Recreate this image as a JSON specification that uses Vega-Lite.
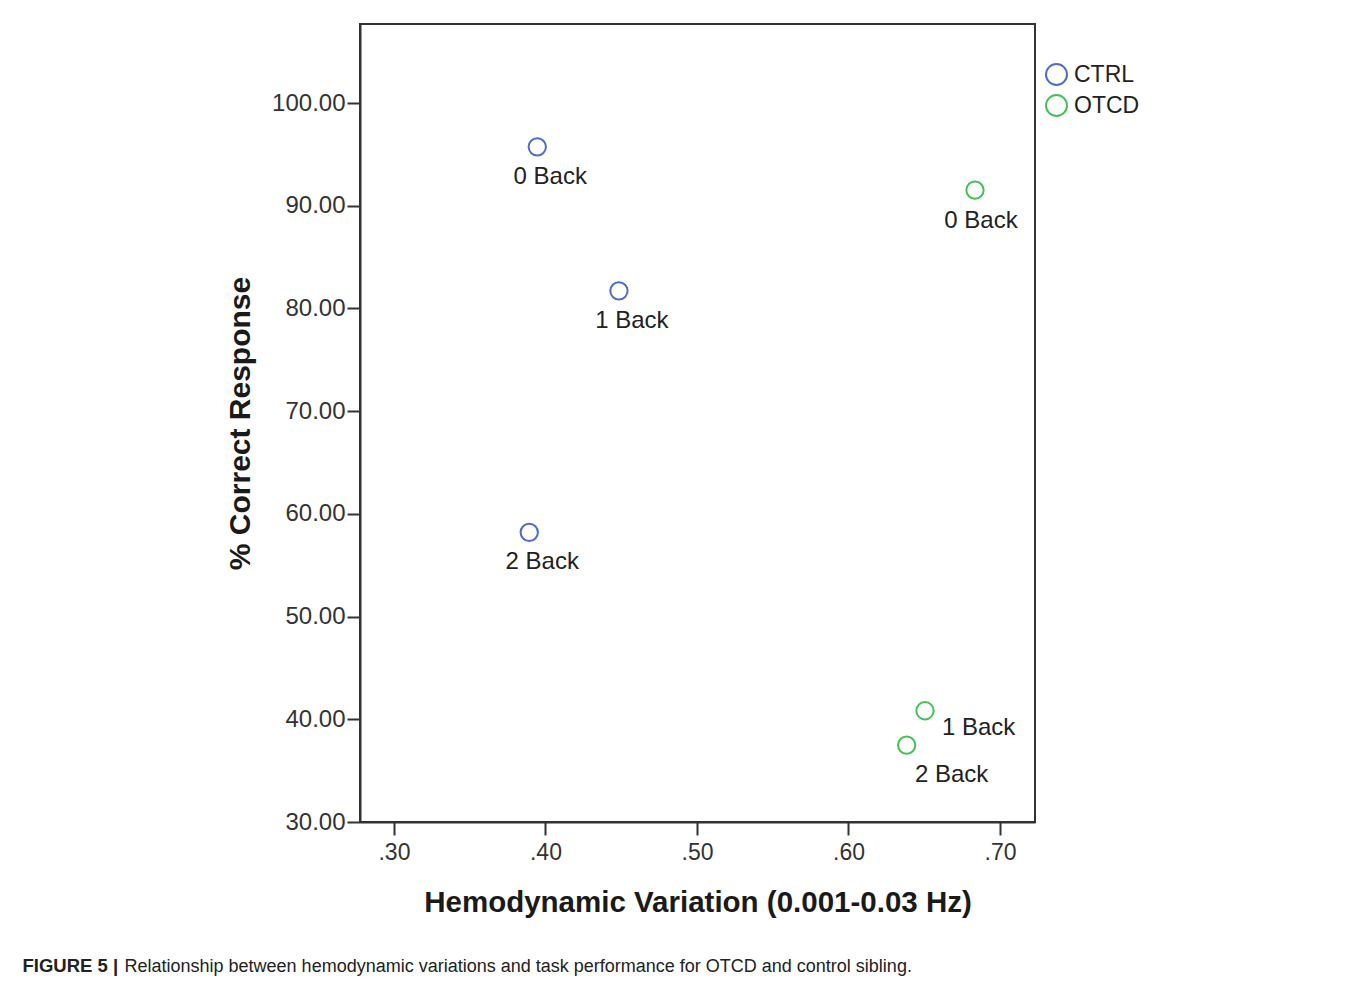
{
  "$schema": "https://vega.github.io/schema/vega-lite/v6.json",
  "width": 675,
  "height": 798,
  "autosize": {"type": "none"},
  "padding": {"left": 360, "top": 24, "right": 322, "bottom": 162},
  "background": "white",
  "config": {
    "view": {"stroke": "#333333", "strokeWidth": 2},
    "font": "Liberation Sans",
    "axis": {"grid": false}
  },
  "data": {
    "values": [
      {"group": "CTRL", "task": "0 Back", "variation": 0.3946, "correct": 95.74},
      {"group": "CTRL", "task": "1 Back", "variation": 0.4485, "correct": 81.72},
      {"group": "CTRL", "task": "2 Back", "variation": 0.3893, "correct": 58.2},
      {"group": "OTCD", "task": "0 Back", "variation": 0.6835, "correct": 91.53},
      {"group": "OTCD", "task": "1 Back", "variation": 0.6505, "correct": 40.83},
      {"group": "OTCD", "task": "2 Back", "variation": 0.6384, "correct": 37.49}
    ]
  },
  "layer": [
    {
      "mark": {"type": "point", "shape": "circle", "filled": false, "size": 300, "strokeWidth": 2, "opacity": 1},
      "encoding": {
        "x": {
          "field": "variation", "type": "quantitative",
          "scale": {"domain": [0.2776, 0.7231], "nice": false, "zero": false},
          "axis": {
            "title": "Hemodynamic Variation (0.001-0.03 Hz)",
            "values": [0.3, 0.4, 0.5, 0.6, 0.7],
            "labelExpr": "substring(format(datum.value, '.2f'), 1)",
            "labelFont": "Liberation Sans", "labelFontSize": 23, "labelColor": "#333333", "labelPadding": 6,
            "tickSize": 13, "tickColor": "#333333", "tickWidth": 2,
            "domainColor": "#333333", "domainWidth": 2,
            "titleFont": "Liberation Sans", "titleFontSize": 29.5, "titleFontWeight": "bold", "titleColor": "#1a1a1a",
            "titleX": 337.5, "titleY": 89, "titleAlign": "center", "titleBaseline": "alphabetic", "titleLimit": 2000
          }
        },
        "y": {
          "field": "correct", "type": "quantitative",
          "scale": {"domain": [30, 107.7], "nice": false, "zero": false},
          "axis": {
            "title": "% Correct Response",
            "values": [30, 40, 50, 60, 70, 80, 90, 100],
            "format": ".2f",
            "labelFont": "Liberation Sans", "labelFontSize": 24, "labelColor": "#333333", "labelPadding": 2,
            "tickSize": 13, "tickColor": "#333333", "tickWidth": 2,
            "domainColor": "#333333", "domainWidth": 2,
            "titleFont": "Liberation Sans", "titleFontSize": 30, "titleFontWeight": "bold", "titleColor": "#1a1a1a",
            "titleX": -120, "titleY": 399, "titleAngle": 270, "titleAlign": "center", "titleBaseline": "middle", "titleLimit": 2000
          }
        },
        "color": {
          "field": "group", "type": "nominal",
          "scale": {"domain": ["CTRL", "OTCD"], "range": ["#4e6ad0", "#42c254"]},
          "legend": {
            "title": null, "orient": "none", "legendX": 685, "legendY": 39,
            "symbolType": "circle", "symbolSize": 440, "symbolStrokeWidth": 2,
            "labelFont": "Liberation Sans", "labelFontSize": 23, "labelColor": "#222222", "labelOffset": 6,
            "rowPadding": 2
          }
        }
      }
    },
    {
      "transform": [{"filter": "datum.group == 'CTRL'"}],
      "mark": {"type": "text", "font": "Liberation Sans", "fontSize": 24, "color": "#222222", "align": "center", "baseline": "middle", "dx": 13, "dy": 30},
      "encoding": {
        "x": {"field": "variation", "type": "quantitative", "axis": null},
        "y": {"field": "correct", "type": "quantitative", "axis": null},
        "text": {"field": "task"}
      }
    },
    {
      "transform": [{"filter": "datum.group == 'OTCD' && datum.task == '0 Back'"}],
      "mark": {"type": "text", "font": "Liberation Sans", "fontSize": 24, "color": "#222222", "align": "center", "baseline": "middle", "dx": 6, "dy": 31},
      "encoding": {
        "x": {"field": "variation", "type": "quantitative", "axis": null},
        "y": {"field": "correct", "type": "quantitative", "axis": null},
        "text": {"field": "task"}
      }
    },
    {
      "transform": [{"filter": "datum.group == 'OTCD' && datum.task == '1 Back'"}],
      "mark": {"type": "text", "font": "Liberation Sans", "fontSize": 24, "color": "#222222", "align": "left", "baseline": "middle", "dx": 17, "dy": 17},
      "encoding": {
        "x": {
          "field": "variation", "type": "quantitative",
          "axis": {
            "orient": "bottom", "title": "Relationship between hemodynamic variations and task performance for OTCD and control sibling.",
            "labels": false, "ticks": false, "domain": false, "grid": false,
            "titleFont": "Liberation Sans", "titleFontSize": 18, "titleFontWeight": "normal", "titleColor": "#222222",
            "titleX": -236, "titleY": 149.5, "titleAlign": "left", "titleBaseline": "alphabetic", "titleAngle": 0, "titleLimit": 2000
          }
        },
        "y": {"field": "correct", "type": "quantitative", "axis": null},
        "text": {"field": "task"}
      }
    },
    {
      "transform": [{"filter": "datum.group == 'OTCD' && datum.task == '2 Back'"}],
      "mark": {"type": "text", "font": "Liberation Sans", "fontSize": 24, "color": "#222222", "align": "center", "baseline": "middle", "dx": 45, "dy": 30},
      "encoding": {
        "x": {
          "field": "variation", "type": "quantitative",
          "axis": {
            "orient": "bottom", "title": "FIGURE 5 |",
            "labels": false, "ticks": false, "domain": false, "grid": false,
            "titleFont": "Liberation Sans", "titleFontSize": 18.5, "titleFontWeight": "bold", "titleColor": "#222222",
            "titleX": -338, "titleY": 149.5, "titleAlign": "left", "titleBaseline": "alphabetic", "titleAngle": 0, "titleLimit": 2000
          }
        },
        "y": {"field": "correct", "type": "quantitative", "axis": null},
        "text": {"field": "task"}
      }
    }
  ],
  "resolve": {"axis": {"x": "independent", "y": "independent"}}
}
